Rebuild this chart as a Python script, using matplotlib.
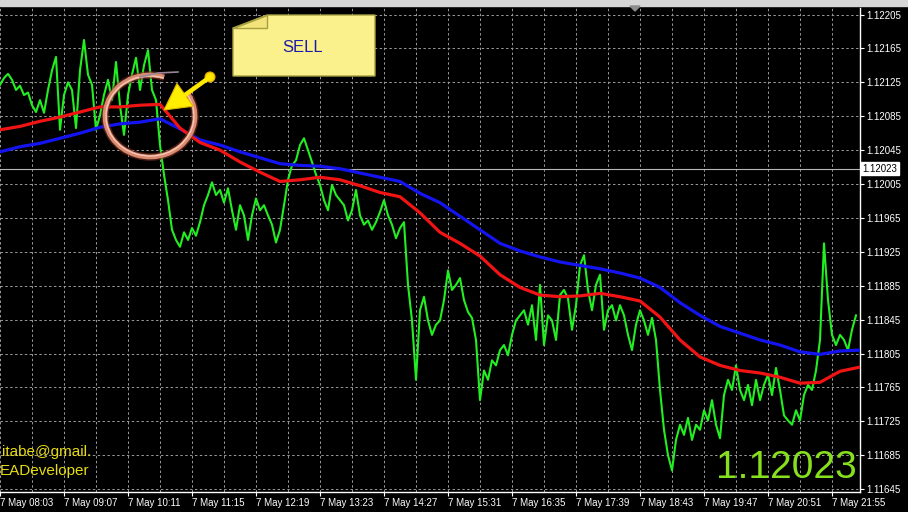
import matplotlib
matplotlib.use("Agg")
import matplotlib.pyplot as plt, numpy as np
from matplotlib.patches import Polygon, Arc, Circle, Rectangle
from matplotlib.transforms import blended_transform_factory

plt.rcParams['font.family'] = ['Liberation Sans', 'DejaVu Sans']

### DATA (EURUSD M1, 7 May)
# close price, one sample every 4 minutes from 08:03
price_step = 4
close = [
    1.12122, 1.12130, 1.12135, 1.12128, 1.12116, 1.12121, 1.12110, 1.12113, 1.12098, 1.12090,
    1.12104, 1.12089, 1.12116, 1.12139, 1.12155, 1.12069, 1.12110, 1.12125, 1.12116, 1.12071,
    1.12139, 1.12175, 1.12134, 1.12122, 1.12069, 1.12086, 1.12110, 1.12128, 1.12104, 1.12149,
    1.12098, 1.12063, 1.12110, 1.12134, 1.12154, 1.12116, 1.12145, 1.12163, 1.12116, 1.12104,
    1.12051, 1.12016, 1.11986, 1.11951, 1.11939, 1.11931, 1.11948, 1.11939, 1.11953, 1.11944,
    1.11960, 1.11980, 1.11992, 1.12007, 1.11992, 1.11998, 1.11983, 1.12000, 1.11974, 1.11951,
    1.11980, 1.11968, 1.11939, 1.11968, 1.11988, 1.11974, 1.11980, 1.11968, 1.11957, 1.11936,
    1.11951, 1.11980, 1.12010, 1.12027, 1.12033, 1.12051, 1.12059, 1.12045, 1.12031, 1.12016,
    1.12004, 1.11986, 1.11974, 1.12004, 1.11992, 1.11986, 1.11980, 1.11962, 1.11974, 1.11998,
    1.11968, 1.11957, 1.11962, 1.11951, 1.11960, 1.11972, 1.11986, 1.11968, 1.11957, 1.11941,
    1.11953, 1.11960, 1.11886, 1.11844, 1.11774, 1.11856, 1.11872, 1.11844, 1.11827, 1.11839,
    1.11844, 1.11868, 1.11903, 1.11880, 1.11886, 1.11894, 1.11868, 1.11854, 1.11847, 1.11821,
    1.11750, 1.11785, 1.11774, 1.11797, 1.11791, 1.11809, 1.11815, 1.11803, 1.11827, 1.11844,
    1.11850, 1.11856, 1.11839, 1.11862, 1.11821, 1.11886, 1.11815, 1.11850, 1.11844, 1.11821,
    1.11874, 1.11880, 1.11870, 1.11833, 1.11862, 1.11909, 1.11921, 1.11880, 1.11856, 1.11886,
    1.11898, 1.11833, 1.11856, 1.11862, 1.11844, 1.11862, 1.11850, 1.11827, 1.11809, 1.11839,
    1.11856, 1.11844, 1.11827, 1.11847, 1.11821, 1.11762, 1.11715, 1.11685, 1.11667, 1.11703,
    1.11721, 1.11709, 1.11729, 1.11703, 1.11721, 1.11715, 1.11738, 1.11726, 1.11750, 1.11721,
    1.11705, 1.11756, 1.11774, 1.11762, 1.11791, 1.11762, 1.11750, 1.11768, 1.11744, 1.11774,
    1.11750, 1.11768, 1.11780, 1.11756, 1.11788, 1.11762, 1.11732, 1.11726, 1.11721, 1.11738,
    1.11726, 1.11756, 1.11768, 1.11762, 1.11785, 1.11821, 1.11935, 1.11868, 1.11827, 1.11815,
    1.11827, 1.11821, 1.11809, 1.11833, 1.11850,
]
# moving averages, one sample every 20 minutes
ma_step = 20
ma_fast = [  # red
    1.12069, 1.12073, 1.12079, 1.12084, 1.12090, 1.12096, 1.12096, 1.12098, 1.12099, 1.12071,
    1.12054, 1.12045, 1.12031, 1.12019, 1.12008, 1.12010, 1.12013, 1.12010, 1.12003, 1.11995,
    1.11990, 1.11971, 1.11948, 1.11935, 1.11920, 1.11898, 1.11883, 1.11874, 1.11872, 1.11873,
    1.11876, 1.11872, 1.11867, 1.11848, 1.11821, 1.11801, 1.11791, 1.11785, 1.11782, 1.11777,
    1.11770, 1.11771, 1.11784, 1.11789,
]
ma_slow = [  # blue
    1.12043, 1.12049, 1.12053, 1.12059, 1.12065, 1.12072, 1.12076, 1.12078, 1.12082, 1.12070,
    1.12057, 1.12051, 1.12043, 1.12036, 1.12029, 1.12027, 1.12026, 1.12023, 1.12018, 1.12013,
    1.12008, 1.11994, 1.11983, 1.11967, 1.11951, 1.11935, 1.11926, 1.11919, 1.11913, 1.11909,
    1.11905, 1.11900, 1.11894, 1.11883, 1.11865, 1.11850, 1.11837, 1.11829, 1.11821, 1.11815,
    1.11807, 1.11804, 1.11808, 1.11809,
]
current_price = 1.12023
time_labels = ["7 May 08:03", "7 May 09:07", "7 May 10:11", "7 May 11:15", "7 May 12:19",
               "7 May 13:23", "7 May 14:27", "7 May 15:31", "7 May 16:35", "7 May 17:39",
               "7 May 18:43", "7 May 19:47", "7 May 20:51", "7 May 21:55"]
label_step = 64  # minutes between time labels
price_levels = [1.11645, 1.11685, 1.11725, 1.11765, 1.11805, 1.11845, 1.11885, 1.11925,
                1.11965, 1.12005, 1.12045, 1.12085, 1.12125, 1.12165, 1.12205]

### FIGURE
W, H = 908, 512
fig = plt.figure(figsize=(W / 100, H / 100), dpi=100, facecolor='black')
ax = fig.add_axes([0, 20 / H, 860 / W, 484 / H])
ax.set_facecolor('black')

ax.plot(np.arange(len(close)) * price_step, close, color='#22ee22', lw=1.5, zorder=3)
ax.plot(np.arange(len(ma_slow)) * ma_step, ma_slow, color='#1414f0', lw=2.3, zorder=4)
ax.plot(np.arange(len(ma_fast)) * ma_step, ma_fast, color='#f01414', lw=2.3, zorder=5)
ax.axhline(current_price, color='#b8b8b8', lw=0.8, zorder=2)

ax.set_xlim(0, 860)
ax.set_ylim(1.116416, 1.122127)
ax.set_xticks(np.arange(len(time_labels)) * label_step)
ax.set_xticklabels(time_labels, ha='left')
ax.set_xticks(np.arange(0, 861, label_step // 2), minor=True)
ax.yaxis.tick_right()
ax.set_yticks(price_levels)
ax.set_yticklabels([f"{p:.5f}" for p in price_levels])
ax.tick_params(colors='white', labelcolor='white', labelsize=7, length=3, width=0.8, pad=1.5)
ax.tick_params(axis='x', which='minor', length=0)
ax.set_axisbelow(True)
ax.grid(True, which='both', axis='x', color='#9a9a9a', ls=(0, (2.5, 2.5)), lw=0.7)
ax.grid(True, which='major', axis='y', color='#9a9a9a', ls=(0, (2.5, 2.5)), lw=0.7)
for s in ['top', 'left']:
    ax.spines[s].set_visible(False)
for s in ['right', 'bottom']:
    ax.spines[s].set_color('white')
    ax.spines[s].set_linewidth(1)

# bid label on the price scale
tr = blended_transform_factory(ax.transAxes, ax.transData)
ax.text(1.003, current_price, f"{current_price:.5f}", transform=tr, color='black', fontsize=7,
        va='center', ha='left', bbox=dict(boxstyle='square,pad=0.15', fc='white', ec='white'))

### overlay in pixel coordinates (objects drawn on the chart)
ov = fig.add_axes([0, 0, 1, 1], zorder=10)
ov.set_xlim(0, W)
ov.set_ylim(H, 0)
ov.axis('off')
ov.patch.set_alpha(0)

ov.add_patch(Rectangle((0, 0), W, 6, color='#d6d6d6'))
ov.add_patch(Polygon([(630, 6), (640, 6), (635, 11)], color='#8c8c8c'))

# SELL note
ov.add_patch(Polygon([(233, 28), (267, 15), (375, 15), (375, 76), (233, 76)],
                     fc='#faf08c', ec='#a8a040', lw=1))
ov.add_patch(Polygon([(233, 28), (267, 28), (267, 15)], fc='#f2e47a', ec='#a8a040', lw=1))
ov.text(303, 48, "SELL", color='#1c1ca8', fontsize=12, ha='center', va='center')

# highlight ring
cx, cy, rw, rh = 150, 116, 90, 82
ov.add_patch(Arc((cx, cy), rw, rh, theta1=-30, theta2=290, color='#7a3020', lw=5.5, alpha=0.6))
ov.add_patch(Arc((cx, cy), rw, rh, theta1=-30, theta2=290, color='#d98a70', lw=3.4))
ov.add_patch(Arc((cx, cy), rw - 2, rh - 2, theta1=-30, theta2=290, color='#f6c6b6', lw=1))
ov.plot([140, 158, 178], [77, 73, 72], color='#9a8496', lw=1.2)

# yellow arrow
tail, tip = np.array([210.0, 77.0]), np.array([164.0, 110.0])
u = (tip - tail) / np.hypot(*(tip - tail))
perp = np.array([-u[1], u[0]])
base = tip - 26 * u
ov.plot([tail[0], base[0]], [tail[1], base[1]], color='#ffea00', lw=3.2, solid_capstyle='round')
ov.add_patch(Polygon([tip, base + 14 * perp, base - 14 * perp], fc='#ffee00', ec='#e0b800', lw=0.8))
ov.add_patch(Circle(tail, 5, fc='#ffdd00', ec='#e0a800', lw=0.8))

# texts
ov.text(2, 452, "itabe@gmail.", color='#e6dc14', fontsize=11, ha='left', va='center')
ov.text(0, 471, "EADeveloper", color='#e6dc14', fontsize=11, ha='left', va='center')
ov.text(857, 468, f"{current_price:.5f}", color='#86e01e', fontsize=28, ha='right', va='center')

fig.savefig("out.png", dpi=100, facecolor='black')
